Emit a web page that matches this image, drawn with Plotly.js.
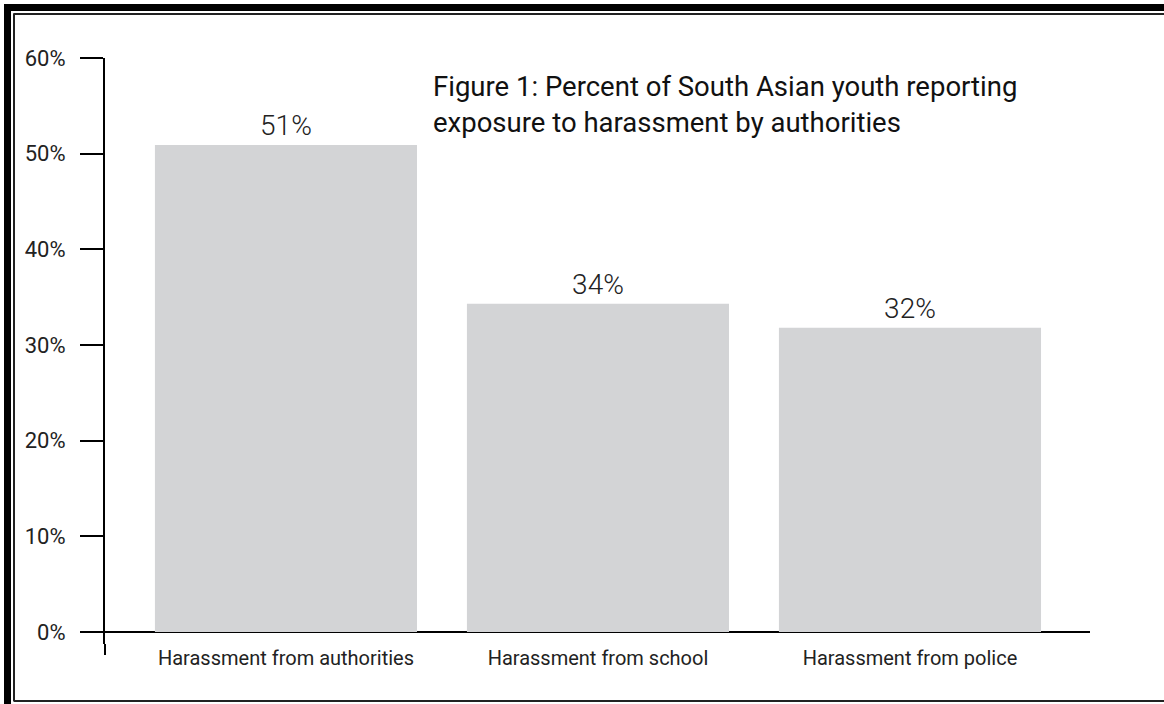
<!DOCTYPE html>
<html>
<head>
<meta charset="utf-8">
<script src="https://cdn.plot.ly/plotly-3.0.1.min.js"></script>
<style>html,body{margin:0;padding:0;background:#fff;}#chart{width:1164px;height:704px;}</style>
</head>
<body>
<div id="chart"></div>
<script>
const categories = ["Harassment from authorities", "Harassment from school", "Harassment from police"];
const values = [50.9, 34.3, 31.8];
const valueLabels = ["51%", "34%", "32%"];
const yTickVals = [0, 10, 20, 30, 40, 50, 60];
const yTickText = ["0%", "10%", "20%", "30%", "40%", "50%", "60%"];
const titleText = "Figure 1: Percent of South Asian youth reporting<br>exposure to harassment by authorities";

const W = 1164, H = 704, L = 105, R = 74, T = 58, B = 60;
const pw = W - L - R, ph = H - T - B;
const px = v => (v - L) / pw;
const py = v => (H - B - v) / ph;

const font = "Roboto, 'DejaVu Sans', sans-serif";

const trace = {
  type: "bar",
  x: categories,
  y: values,
  text: valueLabels,
  textposition: "outside",
  textfont: {family: font, size: 28, color: "#222", weight: 300},
  cliponaxis: false,
  marker: {color: "#d3d4d6"},
  hoverinfo: "x+y"
};

const shapes = [
  // y-axis extension below the x-axis
  {type: "line", xref: "paper", yref: "paper", x0: 0, x1: 0, y0: 0, y1: py(655), line: {color: "#000", width: 2}},
  // thick outer frame
  {type: "line", xref: "paper", yref: "paper", x0: px(4), x1: px(1164), y0: py(7.5), y1: py(7.5), line: {color: "#000", width: 7}},
  {type: "line", xref: "paper", yref: "paper", x0: px(7.5), x1: px(7.5), y0: py(4), y1: py(704), line: {color: "#000", width: 7}},
  // thin inner frame
  {type: "line", xref: "paper", yref: "paper", x0: px(13.5), x1: px(1164), y0: py(14), y1: py(14), line: {color: "#222", width: 2}},
  {type: "line", xref: "paper", yref: "paper", x0: px(14), x1: px(14), y0: py(13.5), y1: py(701), line: {color: "#222", width: 2}},
  {type: "line", xref: "paper", yref: "paper", x0: px(13.5), x1: px(1164), y0: py(701), y1: py(701), line: {color: "#222", width: 2}}
];

const layout = {
  width: W, height: H,
  margin: {l: L, r: R, t: T, b: B, pad: 0},
  paper_bgcolor: "#fff", plot_bgcolor: "#fff",
  showlegend: false,
  bargap: 0.16,
  font: {family: font, color: "#222"},
  xaxis: {
    type: "category",
    range: [-0.58, 2.577],
    showline: false, showgrid: false, zeroline: false,
    ticks: "",
    tickfont: {family: font, size: 20, color: "#222"},
    fixedrange: true
  },
  yaxis: {
    range: [-1.254, 60],
    tickvals: yTickVals,
    ticktext: yTickText,
    ticks: "outside", ticklen: 23, tickwidth: 2, tickcolor: "#000",
    ticklabelstandoff: 10,
    showline: true, linecolor: "#000", linewidth: 2,
    showgrid: false,
    zeroline: true, zerolinecolor: "#000", zerolinewidth: 2,
    tickfont: {family: font, size: 22, color: "#222"},
    fixedrange: true
  },
  shapes: shapes,
  annotations: [{
    xref: "paper", yref: "paper",
    x: px(431), y: py(68),
    xanchor: "left", yanchor: "top", align: "left",
    showarrow: false,
    text: titleText,
    font: {family: font, size: 27.5, color: "#111"}
  }]
};

Plotly.newPlot("chart", [trace], layout, {displayModeBar: false, staticPlot: true});
</script>
</body>
</html>
